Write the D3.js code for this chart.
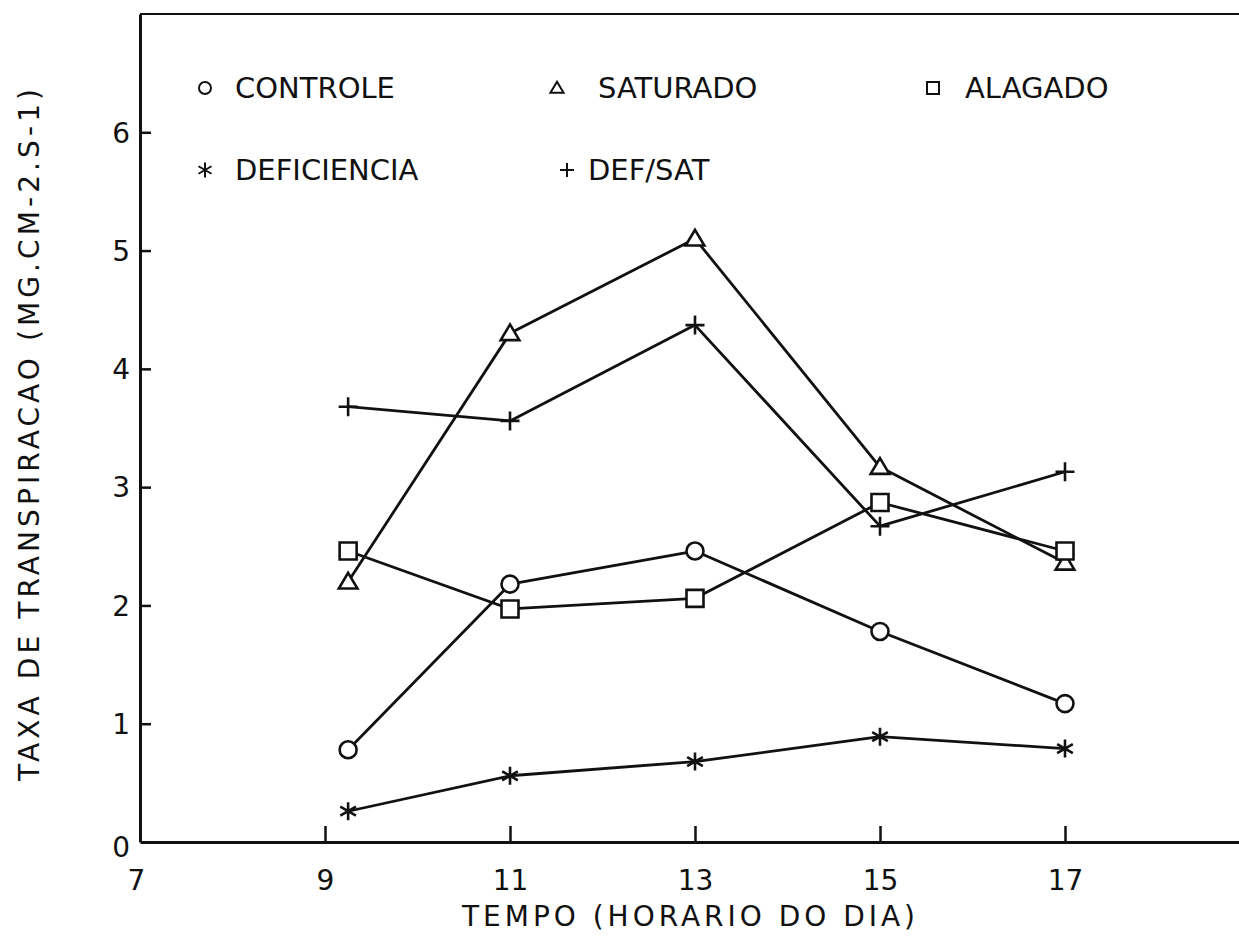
<!DOCTYPE html>
<html>
<head>
<meta charset="utf-8">
<script src="https://cdn.jsdelivr.net/npm/d3@7"></script>
<style>
  html, body { margin: 0; padding: 0; background: #fff; }
  svg { display: block; }
  text { font-family: "DejaVu Sans", sans-serif; fill: #111; }
</style>
</head>
<body>
<svg id="chart" width="1239" height="936"></svg>
<script>
// ---- data ----
const times = [9.25, 11, 13, 15, 17];
const seriesNames = ["CONTROLE", "SATURADO", "ALAGADO", "DEFICIENCIA", "DEF/SAT"];
const controle    = [0.78, 2.18, 2.46, 1.78, 1.17];
const saturado    = [2.20, 4.30, 5.10, 3.17, 2.36];
const alagado     = [2.46, 1.97, 2.06, 2.87, 2.46];
const deficiencia = [0.26, 0.56, 0.68, 0.89, 0.79];
const defsat      = [3.68, 3.56, 4.37, 2.67, 3.13];
const xTicks = [7, 9, 11, 13, 15, 17];
const yTicks = [0, 1, 2, 3, 4, 5, 6];
const xTitle = "TEMPO (HORARIO DO DIA)";
const yTitle = "TAXA DE TRANSPIRACAO (MG.CM-2.S-1)";

const seriesValues = [controle, saturado, alagado, deficiencia, defsat];
const markerTypes = ["circle", "triangle", "square", "asterisk", "plus"];

// ---- layout ----
const svg = d3.select("#chart");
const x = d3.scaleLinear().domain([7, 19]).range([140, 1250]);
const y = d3.scaleLinear().domain([0, 7]).range([842, 14]);

// marker path generator
function markerPath(type, s) {
  const p = d3.path();
  if (type === "circle") {
    p.arc(0, 0, s, 0, 2 * Math.PI);
  } else if (type === "square") {
    p.rect(-s, -s, 2 * s, 2 * s);
  } else if (type === "triangle") {
    p.moveTo(0, -s * 1.05); p.lineTo(s * 1.1, s * 0.8); p.lineTo(-s * 1.1, s * 0.8); p.closePath();
  } else if (type === "plus") {
    p.moveTo(-s, 0); p.lineTo(s, 0); p.moveTo(0, -s); p.lineTo(0, s);
  } else if (type === "asterisk") {
    p.moveTo(0, -s); p.lineTo(0, s);
    const a = s * 0.87, b = s * 0.5;
    p.moveTo(-a, -b); p.lineTo(a, b);
    p.moveTo(-a, b); p.lineTo(a, -b);
  }
  return p.toString();
}

// frame (top border)
svg.append("line")
  .attr("x1", x(7)).attr("x2", x(19))
  .attr("y1", y(7)).attr("y2", y(7))
  .attr("stroke", "#111").attr("stroke-width", 2);

// x axis
const xAxis = d3.axisBottom(x).tickValues(xTicks).tickSizeInner(-16).tickSizeOuter(0)
  .tickFormat(d3.format("d"));
const gx = svg.append("g").attr("transform", `translate(0,${y(0)})`).call(xAxis);
gx.select(".domain").attr("stroke", "#111").attr("stroke-width", 3);
gx.selectAll(".tick line").attr("stroke", "#111").attr("stroke-width", 2.5)
  .attr("opacity", d => d === 7 ? 0 : 1);
gx.selectAll(".tick text").attr("y", 38).attr("dy", "0.35em")
  .attr("font-size", 28).attr("font-family", "DejaVu Sans").attr("fill", "#111")
  .attr("dx", d => d === 7 ? -4 : 0);

// y axis
const yAxis = d3.axisLeft(y).tickValues(yTicks).tickSizeInner(-11).tickSizeOuter(0)
  .tickFormat(d3.format("d"));
const gy = svg.append("g").attr("transform", `translate(${x(7)},0)`).call(yAxis);
gy.select(".domain").attr("stroke", "#111").attr("stroke-width", 3);
gy.selectAll(".tick line").attr("stroke", "#111").attr("stroke-width", 2.5)
  .attr("opacity", d => d === 0 ? 0 : 1);
gy.selectAll(".tick text").attr("x", -10).attr("dy", d => d === 0 ? "0.5em" : "0.35em")
  .attr("font-size", 28).attr("font-family", "DejaVu Sans").attr("fill", "#111");

// axis titles
svg.append("text")
  .attr("x", 462).attr("y", 916).attr("dy", "0.35em")
  .attr("font-size", 28).attr("textLength", 453).attr("lengthAdjust", "spacing")
  .text(xTitle);
svg.append("text")
  .attr("transform", "translate(29,781) rotate(-90)")
  .attr("dy", "0.35em")
  .attr("font-size", 28).attr("textLength", 692).attr("lengthAdjust", "spacing")
  .text(yTitle);

// series lines
const line = d3.line().x((d, i) => x(times[i])).y(d => y(d));
seriesValues.forEach((vals, si) => {
  svg.append("path").datum(vals)
    .attr("d", line).attr("fill", "none")
    .attr("stroke", "#111").attr("stroke-width", 2.8)
    .attr("stroke-linejoin", "round");
});

// markers
const markerSize = { circle: 8.5, square: 8.5, triangle: 8.5, plus: 9.5, asterisk: 9 };
seriesValues.forEach((vals, si) => {
  const t = markerTypes[si];
  svg.append("g").selectAll("path").data(vals).join("path")
    .attr("transform", (d, i) => `translate(${x(times[i])},${y(d)})`)
    .attr("d", markerPath(t, markerSize[t]))
    .attr("fill", (t === "plus" || t === "asterisk") ? "none" : "#fff")
    .attr("stroke", "#111").attr("stroke-width", 2.6);
});

// legend
const legendLayout = [
  { sx: 205, tx: 235, y: 88 },
  { sx: 557, tx: 598, y: 88 },
  { sx: 933, tx: 965, y: 88 },
  { sx: 205, tx: 235, y: 170 },
  { sx: 567, tx: 588, y: 170 }
];
const legendSize = { circle: 6, square: 6, triangle: 6, plus: 7, asterisk: 7.5 };
seriesNames.forEach((name, i) => {
  const L = legendLayout[i];
  const t = markerTypes[i];
  svg.append("path")
    .attr("transform", `translate(${L.sx},${L.y})`)
    .attr("d", markerPath(t, legendSize[t]))
    .attr("fill", "none").attr("stroke", "#111").attr("stroke-width", 2);
  svg.append("text")
    .attr("x", L.tx).attr("y", L.y).attr("dy", "0.36em")
    .attr("font-size", 29)
    .text(name);
});
</script>
</body>
</html>
